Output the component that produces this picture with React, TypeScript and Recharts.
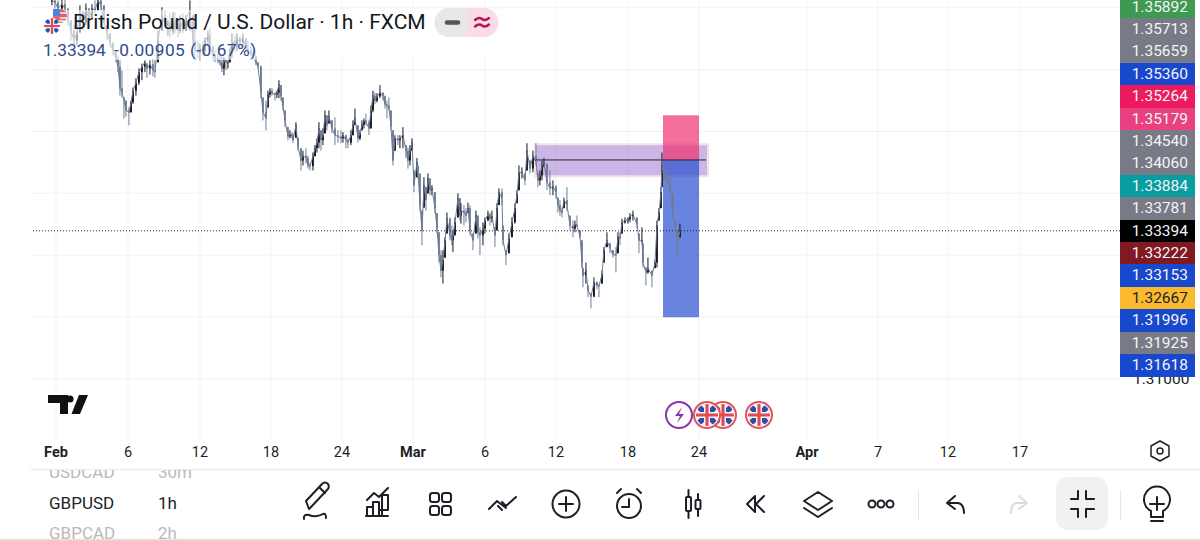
import { Bar, CartesianGrid, ComposedChart, Line, ReferenceArea, ReferenceLine, XAxis, YAxis } from 'recharts'

// hourly bar number on the x axis
const bars = [
  40, 46, 52, 60, 66, 72, 78, 84, 90, 96,
  102, 108, 114, 120, 126, 132, 138, 144, 150, 156,
  162, 168, 172, 176, 180, 184, 188, 194, 198, 202,
  208, 214, 220, 226, 230, 236, 242, 246, 252, 260,
  266, 272, 276, 282, 286, 292, 296, 302, 308, 316,
  322, 326, 332, 336, 342, 346, 352, 356, 362, 366,
  372, 376, 380, 384, 388, 392, 396, 400, 406, 410,
  416, 422, 428, 432, 438, 442, 448, 452, 458, 462,
  468, 472, 476, 480, 486, 490, 494, 498, 502, 506,
  512, 516, 520, 522, 528, 532, 538, 542, 548, 552,
  556, 562, 566, 570, 574, 578, 582, 586, 590, 594,
  600, 606, 612, 618, 622, 628, 632, 638, 642, 646,
  652, 656, 660, 664, 668, 674, 678, 682, 686, 690,
  696, 702, 706, 710, 714, 718, 722, 726, 732, 736,
  742, 748, 752, 756, 760, 764, 770, 772, 776, 780,
  784, 788, 792, 796, 800, 806, 810, 814, 818, 822,
  826, 830, 836, 840, 842, 846, 852, 856, 858, 864,
  868, 872, 876, 882, 888, 892, 896, 902, 906, 912,
  916, 920, 926, 930, 934, 940, 942, 948, 954, 960,
  966, 970, 974, 980, 986, 990, 996, 1002, 1008, 1012,
  1016, 1020, 1024, 1030, 1036, 1042, 1048, 1052, 1056, 1060,
  1064, 1070, 1076, 1082, 1086, 1090, 1096, 1100, 1102, 1108,
  1112, 1118, 1124, 1130, 1134, 1140, 1144, 1150, 1156, 1162,
  1168, 1172, 1176, 1180, 1186, 1192, 1196, 1202, 1210, 1214,
  1220, 1222, 1228, 1232, 1240, 1246, 1250, 1254, 1258, 1260,
  1264, 1270, 1276, 1282, 1286, 1290, 1292, 1296,
]

const highs = [
  1.3728, 1.372, 1.3712, 1.372, 1.372, 1.3699, 1.368, 1.3672, 1.3663, 1.3704,
  1.3696, 1.3707, 1.3699, 1.3706, 1.3712, 1.372, 1.3717, 1.3704, 1.3672, 1.3659,
  1.3644, 1.3631, 1.3623, 1.3615, 1.3599, 1.3555, 1.355, 1.3539, 1.355, 1.3571,
  1.3586, 1.3602, 1.361, 1.3615, 1.361, 1.3615, 1.3618, 1.3615, 1.3663, 1.3701,
  1.3696, 1.368, 1.3691, 1.3693, 1.3693, 1.368, 1.3688, 1.3691, 1.3688, 1.3712,
  1.3688, 1.3675, 1.3647, 1.3642, 1.3647, 1.3652, 1.3663, 1.3668, 1.3639, 1.3631,
  1.3628, 1.3626, 1.3623, 1.362, 1.3618, 1.3615, 1.3634, 1.3659, 1.3655, 1.3659,
  1.3654, 1.3659, 1.3651, 1.3647, 1.3639, 1.3631, 1.3623, 1.3612, 1.3607, 1.3555,
  1.355, 1.3566, 1.357, 1.357, 1.3563, 1.3566, 1.3583, 1.3575, 1.3555, 1.3534,
  1.3507, 1.3502, 1.3499, 1.3497, 1.3515, 1.349, 1.3473, 1.3469, 1.3473, 1.3461,
  1.345, 1.3466, 1.3478, 1.3489, 1.3515, 1.3502, 1.3505, 1.3534, 1.3526, 1.3534,
  1.3518, 1.3523, 1.3502, 1.3502, 1.3499, 1.3494, 1.3489, 1.3502, 1.3518, 1.3537,
  1.351, 1.3502, 1.3518, 1.3521, 1.3529, 1.3518, 1.3542, 1.3566, 1.3563, 1.3562,
  1.3575, 1.3563, 1.3558, 1.355, 1.3555, 1.3534, 1.3502, 1.3494, 1.3494, 1.3494,
  1.3507, 1.3478, 1.3474, 1.3478, 1.3489, 1.3437, 1.3457, 1.3445, 1.3432, 1.3372,
  1.3426, 1.341, 1.3432, 1.3424, 1.3413, 1.3402, 1.3368, 1.3337, 1.3308, 1.3308,
  1.3329, 1.3369, 1.3361, 1.3348, 1.334, 1.3361, 1.34, 1.3392, 1.3384, 1.3381,
  1.3376, 1.3385, 1.3381, 1.3335, 1.3372, 1.3364, 1.3345, 1.3353, 1.3361, 1.3372,
  1.3369, 1.3372, 1.3345, 1.3384, 1.3408, 1.3408, 1.3348, 1.3308, 1.3335, 1.3361,
  1.3384, 1.3405, 1.3445, 1.3442, 1.3432, 1.3481, 1.3453, 1.3469, 1.3481, 1.3432,
  1.3437, 1.3453, 1.3457, 1.3448, 1.3437, 1.3421, 1.3413, 1.3393, 1.3389, 1.3377,
  1.3393, 1.341, 1.3364, 1.3356, 1.3356, 1.3364, 1.334, 1.3324, 1.3279, 1.3288,
  1.3251, 1.3238, 1.3264, 1.3258, 1.3254, 1.3275, 1.3313, 1.3337, 1.3319, 1.3308,
  1.3313, 1.3337, 1.3337, 1.3359, 1.3361, 1.3361, 1.3368, 1.3372, 1.3361, 1.3335,
  1.3345, 1.3319, 1.328, 1.3296, 1.3275, 1.3292, 1.3356, 1.3376, 1.341, 1.3466,
  1.344, 1.3437, 1.3432, 1.34, 1.3356, 1.3343, 1.334, 1.3351,
]

const lows = [
  1.3704, 1.3699, 1.3693, 1.3696, 1.3693, 1.3672, 1.3647, 1.3639, 1.3639, 1.366,
  1.3663, 1.3672, 1.3667, 1.3683, 1.3688, 1.3696, 1.3696, 1.3672, 1.3647, 1.3636,
  1.3623, 1.3612, 1.3596, 1.3558, 1.3555, 1.3521, 1.3524, 1.351, 1.3531, 1.3545,
  1.3558, 1.3575, 1.3583, 1.3596, 1.3587, 1.3592, 1.3589, 1.3587, 1.3612, 1.3663,
  1.3668, 1.3655, 1.3652, 1.3657, 1.3659, 1.3652, 1.3659, 1.3659, 1.3663, 1.3663,
  1.3639, 1.362, 1.3618, 1.3615, 1.3623, 1.3623, 1.3639, 1.3631, 1.3615, 1.3612,
  1.361, 1.3607, 1.3596, 1.3591, 1.3599, 1.3602, 1.3612, 1.362, 1.3628, 1.3631,
  1.3634, 1.3636, 1.3628, 1.3626, 1.3621, 1.3618, 1.3607, 1.3602, 1.3554, 1.3518,
  1.3502, 1.3539, 1.3555, 1.3558, 1.355, 1.3554, 1.3554, 1.355, 1.3534, 1.3507,
  1.3486, 1.3489, 1.3489, 1.3481, 1.349, 1.3469, 1.3437, 1.3445, 1.3448, 1.344,
  1.3437, 1.3437, 1.346, 1.3466, 1.3473, 1.3469, 1.3478, 1.3497, 1.3502, 1.3513,
  1.3497, 1.3478, 1.3482, 1.3481, 1.3482, 1.3473, 1.3473, 1.3478, 1.3494, 1.351,
  1.3482, 1.3486, 1.3502, 1.3505, 1.351, 1.3494, 1.3505, 1.3531, 1.3544, 1.3547,
  1.3554, 1.355, 1.3537, 1.3521, 1.3534, 1.3502, 1.3445, 1.3469, 1.3478, 1.3473,
  1.3473, 1.3457, 1.344, 1.3445, 1.3469, 1.3402, 1.3426, 1.3424, 1.3372, 1.3316,
  1.3377, 1.3372, 1.34, 1.3397, 1.3397, 1.3368, 1.3335, 1.3288, 1.3264, 1.3254,
  1.3296, 1.3335, 1.3324, 1.3316, 1.3305, 1.3332, 1.3361, 1.3356, 1.3351, 1.3348,
  1.3353, 1.3368, 1.3332, 1.3308, 1.3335, 1.3327, 1.33, 1.3316, 1.3335, 1.3356,
  1.3348, 1.3353, 1.3313, 1.334, 1.3381, 1.3381, 1.3316, 1.3284, 1.3303, 1.3329,
  1.3351, 1.3384, 1.3405, 1.3424, 1.3413, 1.3437, 1.3432, 1.3434, 1.3445, 1.341,
  1.3413, 1.3421, 1.3442, 1.3405, 1.3397, 1.3397, 1.3392, 1.3369, 1.3364, 1.3361,
  1.3376, 1.3372, 1.334, 1.3329, 1.3337, 1.3345, 1.3327, 1.3279, 1.3248, 1.3254,
  1.3232, 1.3214, 1.3232, 1.3245, 1.3232, 1.3254, 1.3288, 1.3313, 1.3303, 1.3296,
  1.3272, 1.3303, 1.3316, 1.3335, 1.3351, 1.3351, 1.3353, 1.3356, 1.3343, 1.3303,
  1.3319, 1.328, 1.3251, 1.327, 1.3248, 1.3279, 1.328, 1.3356, 1.3376, 1.341,
  1.3421, 1.3416, 1.3397, 1.3361, 1.3343, 1.33, 1.3308, 1.3329,
]

const closes = [
  1.3712, 1.3709, 1.3699, 1.3706, 1.3699, 1.3683, 1.3663, 1.3647, 1.366, 1.3693,
  1.3676, 1.3699, 1.368, 1.3699, 1.3696, 1.3712, 1.3704, 1.3676, 1.366, 1.3644,
  1.3631, 1.3618, 1.3605, 1.357, 1.3563, 1.355, 1.3534, 1.3531, 1.3547, 1.3566,
  1.3579, 1.3596, 1.3605, 1.3612, 1.3602, 1.3609, 1.3599, 1.3596, 1.3647, 1.3688,
  1.3672, 1.3676, 1.3663, 1.368, 1.3667, 1.3663, 1.3683, 1.3663, 1.3683, 1.3696,
  1.3647, 1.3631, 1.3628, 1.3634, 1.3631, 1.3647, 1.3655, 1.3638, 1.3623, 1.3618,
  1.3615, 1.3612, 1.3602, 1.3615, 1.3612, 1.3612, 1.3631, 1.3647, 1.3639, 1.3651,
  1.3644, 1.3652, 1.3634, 1.3631, 1.3625, 1.3621, 1.3612, 1.3605, 1.3563, 1.3531,
  1.3521, 1.356, 1.3566, 1.3562, 1.356, 1.3563, 1.3576, 1.3557, 1.3541, 1.3518,
  1.3492, 1.3495, 1.3494, 1.3486, 1.351, 1.3476, 1.3453, 1.3461, 1.3457, 1.3445,
  1.3444, 1.346, 1.3473, 1.3482, 1.3505, 1.3486, 1.3494, 1.3526, 1.351, 1.3524,
  1.3505, 1.3494, 1.3492, 1.3489, 1.3494, 1.3486, 1.3482, 1.3494, 1.3511, 1.3521,
  1.3489, 1.3497, 1.3511, 1.3518, 1.3515, 1.3505, 1.3534, 1.3558, 1.355, 1.3557,
  1.3563, 1.3557, 1.3544, 1.3542, 1.3537, 1.3508, 1.3453, 1.3489, 1.3486, 1.3489,
  1.3494, 1.3469, 1.3453, 1.3469, 1.3482, 1.3413, 1.345, 1.3434, 1.3381, 1.334,
  1.3413, 1.3389, 1.3424, 1.3405, 1.3408, 1.3376, 1.3343, 1.33, 1.3275, 1.3292,
  1.3324, 1.3359, 1.3332, 1.3324, 1.3332, 1.3353, 1.3392, 1.3364, 1.3372, 1.3369,
  1.3364, 1.3376, 1.334, 1.3324, 1.3364, 1.3337, 1.3332, 1.3343, 1.3356, 1.3366,
  1.3359, 1.3363, 1.3332, 1.3376, 1.3402, 1.3392, 1.3324, 1.33, 1.3327, 1.3353,
  1.3376, 1.3398, 1.3434, 1.3434, 1.3421, 1.3469, 1.344, 1.3461, 1.3453, 1.3421,
  1.3429, 1.3445, 1.345, 1.3418, 1.3408, 1.3411, 1.3402, 1.3381, 1.3372, 1.3369,
  1.3389, 1.3381, 1.3348, 1.3343, 1.335, 1.3348, 1.333, 1.3288, 1.3267, 1.3275,
  1.3243, 1.3233, 1.3256, 1.3251, 1.325, 1.3269, 1.3308, 1.3324, 1.3311, 1.3301,
  1.33, 1.333, 1.3327, 1.3353, 1.3356, 1.3358, 1.3363, 1.3366, 1.335, 1.3324,
  1.3324, 1.3288, 1.3272, 1.3279, 1.3267, 1.3288, 1.3348, 1.3369, 1.3402, 1.3445,
  1.3427, 1.3424, 1.3405, 1.3369, 1.3348, 1.3332, 1.3324, 1.33394,
]

const priceTicks = [1.31, 1.32, 1.33, 1.34, 1.35, 1.36, 1.37]
const visiblePriceTicks = [1.31]
const timeTicks = [48, 192, 336, 478, 620, 762, 906, 1048, 1192, 1334, 1550, 1692, 1832, 1976]
const timeLabels = ['Feb', '6', '12', '18', '24', 'Mar', '6', '12', '18', '24', 'Apr', '7', '12', '17']
const monthLabels = ['Feb', 'Mar', 'Apr']

const tagValues = ['1.35892', '1.35713', '1.35659', '1.35360', '1.35264', '1.35179', '1.34540', '1.34060', '1.33884', '1.33781', '1.33394', '1.33222', '1.33153', '1.32667', '1.31996', '1.31925', '1.31618']
const tagColors = ['#3e9a50', '#787b86', '#787b86', '#1848cc', '#ec1b5e', '#e9407f', '#787b86', '#787b86', '#089da1', '#787b86', '#000000', '#801922', '#1848cc', '#fbb92e', '#1848cc', '#787b86', '#1848cc']

const lastPrice = 1.33394
const stopPrice = 1.35264
const entryPrice = 1.3454
const targetPrice = 1.31996
const zoneTop = 1.34793
const zoneBottom = 1.34275

const data = bars.map((bar, i) => {
  const prev = i > 0 ? closes[i - 1] : closes[0]
  return {
    bar,
    high: highs[i],
    low: lows[i],
    close: closes[i],
    open: Math.min(highs[i], Math.max(lows[i], prev)),
    range: [lows[i], highs[i]],
  }
})

const DARK = '#10131c'
const SOFT = '#6f7b95'

function Candle(props: any) {
  const { x, y, width, height, payload } = props
  if (!payload || !height) return null
  const perPrice = height / (payload.high - payload.low)
  const cx = x + width / 2
  const up = payload.close >= payload.open
  const color = up ? DARK : SOFT
  const top = y + (payload.high - Math.max(payload.open, payload.close)) * perPrice
  const bodyH = Math.max(Math.abs(payload.close - payload.open) * perPrice, 1)
  return (
    <g>
      <line x1={cx} x2={cx} y1={y} y2={y + height} stroke={color} strokeWidth={1} />
      <rect x={cx - 0.9} y={top} width={1.8} height={bodyH} fill={color} />
    </g>
  )
}

function TimeTick(props: any) {
  const { x, y, payload } = props
  const label = timeLabels[timeTicks.indexOf(payload.value)]
  return (
    <text
      x={x}
      y={y}
      dy={9}
      textAnchor="middle"
      fontFamily="Roboto"
      fontSize={14.5}
      fontWeight={monthLabels.includes(label) ? 700 : 400}
      fill="#1c1f26"
    >
      {label}
    </text>
  )
}

function UkFlag({ cx, cy, r }: { cx: number; cy: number; r: number }) {
  const id = `uk${cx}`
  return (
    <g>
      <clipPath id={id}>
        <circle cx={cx} cy={cy} r={r} />
      </clipPath>
      <g clipPath={`url(#${id})`}>
        <rect x={cx - r} y={cy - r} width={r * 2} height={r * 2} fill="#f4f4f8" />
        <path d={`M${cx - r} ${cy - r}L${cx + r} ${cy + r}M${cx + r} ${cy - r}L${cx - r} ${cy + r}`} stroke="#2b4fa8" strokeWidth={r * 0.5} />
        <path d={`M${cx} ${cy - r}V${cy + r}M${cx - r} ${cy}H${cx + r}`} stroke="#f4f4f8" strokeWidth={r * 0.55} />
        <path d={`M${cx} ${cy - r}V${cy + r}M${cx - r} ${cy}H${cx + r}`} stroke="#e4494f" strokeWidth={r * 0.28} />
      </g>
    </g>
  )
}

function EventFlag({ cx }: { cx: number }) {
  return (
    <g>
      <circle cx={cx} cy={415} r={13} fill="#fff" stroke="#e4525a" strokeWidth={2} />
      <UkFlag cx={cx} cy={415} r={11} />
    </g>
  )
}

const ink = { fill: 'none', stroke: '#1c1f26', strokeWidth: 2, strokeLinecap: 'round' as const, strokeLinejoin: 'round' as const }

// everything around the plot: legend, logo, event badges and the app toolbar
function Chrome() {
  return (
    <svg width={1200} height={540} style={{ position: 'absolute', left: 0, top: 0 }}>
      <defs>
        <clipPath id="list">
          <rect x={0} y={470} width={280} height={69} />
        </clipPath>
      </defs>
      <rect x={43} y={10} width={460} height={50} fill="#fff" fillOpacity={0.6} />

      <circle cx={60} cy={16} r={7} fill="#e9606a" />
      <rect x={53} y={9} width={7} height={7} fill="#4a86d8" />
      <path d="M60 13H67M60 18H67M53 21H67" stroke="#f6f6f6" strokeWidth={1.5} />
      <UkFlag cx={52} cy={26} r={8} />
      <text x={73} y={29} fontFamily="Roboto" fontSize={21} fill="#131722">British Pound / U.S. Dollar · 1h · FXCM</text>
      <text x={43} y={56} fontFamily="Roboto" fontSize={17.3} fill="#2f4b8f">1.33394</text>
      <text x={114} y={56} fontFamily="Roboto" fontSize={17.3} letterSpacing={0.45} fill="#2f4b8f">-0.00905 (-0.67%)</text>

      <path d="M449 8H467V37H449A14.5 14.5 0 0 1 449 8Z" fill="#e8e8e8" />
      <path d="M467 8H484A14.5 14.5 0 0 1 484 37H467Z" fill="#fadce6" />
      <path d="M447 22.5H458" stroke="#555" strokeWidth={4.5} strokeLinecap="round" />
      <path d="M475 20q4 -3.5 7 -1t7 -1M475 26.5q4 -3.5 7 -1t7 -1" fill="none" stroke="#b2185b" strokeWidth={2.4} strokeLinecap="round" />

      <path d="M48 395H68V414H60V403H48ZM71.5 414L79 395H88L80 414Z" fill="#111" />
      <circle cx={70} cy={399} r={3.6} fill="#111" />

      <circle cx={679} cy={415} r={13} fill="#fff" stroke="#8b33a8" strokeWidth={2} />
      <path d="M682 407L675 416H680L677 423L684 414H679Z" fill="#8b33a8" />
      <EventFlag cx={723} />
      <EventFlag cx={707} />
      <EventFlag cx={759} />

      <path d="M1160 441L1169 446V456L1160 461L1151 456V446Z" {...ink} strokeWidth={1.5} />
      <circle cx={1160} cy={451} r={3} {...ink} strokeWidth={1.5} />

      <rect x={30} y={469} width={1170} height={1.2} fill="#ececec" />
      <rect x={0} y={538.5} width={1200} height={1.5} fill="#e8e8e8" />

      <g clipPath="url(#list)" fontFamily="Roboto" fontSize={17}>
        <text x={49} y={478} fill="#b9b9b9">USDCAD</text>
        <text x={158} y={478} fill="#b9b9b9">30m</text>
        <text x={49} y={509} fill="#222">GBPUSD</text>
        <text x={158} y={509} fill="#222">1h</text>
        <text x={49} y={539} fill="#b9b9b9">GBPCAD</text>
        <text x={158} y={539} fill="#b9b9b9">2h</text>
      </g>

      <g {...ink}>
        <path d="M309 509L306 501L322 484Q325 481 328 484Q330 487 327 490L311 507ZM319 487L325 493" />
        <path d="M304 519Q303 514 309 515Q316 518 323 514Q326 513 326 518" />
        <path d="M367 515V507H373M373 515V502H379V515M379 510H388V495H382V515M366 516H388M367 500L374 493L379 497L388 488" />
        <rect x={430} y={493} width={9} height={9} rx={2.5} />
        <rect x={442} y={493} width={9} height={9} rx={2.5} />
        <rect x={430} y={506} width={9} height={9} rx={2.5} />
        <rect x={442} y={506} width={9} height={9} rx={2.5} />
        <path d="M489 509L497 501L506 508M498 506L502 510M502 502L506 506L516 497" />
        <circle cx={566} cy={504} r={13.5} />
        <path d="M559 504H573M566 497V511" />
        <circle cx={629} cy={506} r={12} />
        <path d="M629 499V507H622M617 493L621 489M641 493L637 489" />
        <rect x={686} y={497} width={5} height={14} rx={1} />
        <path d="M688.5 490V497M688.5 511V518M698 494V500M698 509V516" />
        <rect x={695.5} y={500} width={5} height={9} rx={1} />
        <path d="M755 496L747 504L755 512ZM764 496L756 504L764 512" />
        <path d="M818 492L832 501L818 510L804 501ZM804 508L818 517L832 508" />
        <circle cx={872} cy={504} r={3.5} />
        <circle cx={881} cy={504} r={3.5} />
        <circle cx={890} cy={504} r={3.5} />
        <path d="M955 496L947 503L955 509M947 503H958Q964 504 964 513" />
        <path d="M1019 496L1027 503L1019 509M1027 503H1016Q1011 504 1011 513" stroke="#dcdcdc" />
      </g>
      <rect x={918} y={490} width={1} height={30} fill="#e6e6e6" />
      <rect x={1056} y={477} width={52} height={53} rx={12} fill="#f1f1f1" />
      <g {...ink}>
        <path d="M1078 491V499H1071M1086 491V499H1094M1078 517V509H1071M1086 517V509H1094" />
      </g>
      <rect x={1120} y={490} width={1} height={30} fill="#e6e6e6" />
      <g {...ink}>
        <path d="M1151 511A13 13 0 1 1 1163 511V517H1151ZM1151 521H1163M1150 504H1164M1157 497V510" />
      </g>
    </svg>
  )
}

export default function App() {
  return (
    <div style={{ position: 'absolute', left: 0, top: 0, width: 1200, height: 540, background: '#fff', overflow: 'hidden' }}>
      <ComposedChart
        width={1200}
        height={540}
        data={data}
        margin={{ top: 0, right: 0, bottom: 0, left: 32 }}
      >
        <CartesianGrid stroke="#f0f3f6" horizontalValues={priceTicks} verticalValues={timeTicks} />
        <XAxis
          dataKey="bar"
          type="number"
          domain={[0, 2176]}
          ticks={timeTicks}
          interval={0}
          height={100}
          axisLine={false}
          tickLine={false}
          tick={<TimeTick />}
          allowDataOverflow
        />
        <YAxis
          orientation="right"
          width={80}
          domain={[1.3001, 1.37127]}
          ticks={visiblePriceTicks}
          interval={0}
          axisLine={false}
          tickLine={false}
          tickMargin={7}
          tickFormatter={(v: number) => v.toFixed(5)}
          tick={{ fontFamily: 'Roboto', fontSize: 15.5, fill: '#1c1f26' }}
          allowDataOverflow
        />
        <ReferenceLine y={lastPrice} stroke="#222" strokeDasharray="1 2" />
        <ReferenceArea x1={1006} x2={1352} y1={zoneBottom} y2={zoneTop} fill="#8e5cc9" fillOpacity={0.45} stroke="#f7e0e2" strokeWidth={2} />
        <ReferenceLine
          segment={[{ x: 1004, y: entryPrice }, { x: 1348, y: entryPrice }]}
          stroke="#2a2438"
        />
        <ReferenceArea x1={1262} x2={1334} y1={entryPrice} y2={stopPrice} fill="#f0326f" fillOpacity={0.7} />
        <ReferenceArea x1={1262} x2={1334} y1={targetPrice} y2={entryPrice} fill="#2a50d0" fillOpacity={0.7} />
        <Line dataKey="close" stroke={SOFT} strokeWidth={1} dot={false} isAnimationActive={false} />
        <Bar dataKey="range" barSize={1.5} shape={<Candle />} isAnimationActive={false} />
      </ComposedChart>
      <Chrome />
      <div style={{ position: 'absolute', left: 1120, top: 0, width: 75, fontFamily: 'Roboto', fontSize: 15.5 }}>
        {tagValues.map((value, i) => (
          <div
            key={value}
            style={{
              position: 'absolute',
              left: 0,
              top: 7 + i * 22.4 - 11.5,
              width: 75,
              height: 23,
              lineHeight: '23px',
              textAlign: 'right',
              paddingRight: 7,
              boxSizing: 'border-box',
              background: tagColors[i],
              color: value === '1.32667' ? '#1c1f26' : '#f4f4f6',
            }}
          >
            {value}
          </div>
        ))}
      </div>
    </div>
  )
}
